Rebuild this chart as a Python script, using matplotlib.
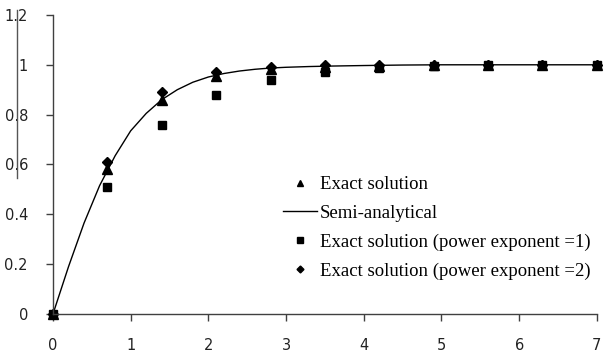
import matplotlib
matplotlib.use("Agg")
import matplotlib.pyplot as plt
from matplotlib.lines import Line2D

# Data
x_pts = [0, 0.7, 1.4, 2.1, 2.8, 3.5, 4.2, 4.9, 5.6, 6.3, 7.0]
exact = [0, 0.58, 0.86, 0.955, 0.985, 0.993, 0.997, 1.0, 1.0, 1.0, 1.0]
exact_p1 = [0, 0.51, 0.76, 0.88, 0.94, 0.972, 0.988, 0.996, 1.0, 1.0, 1.0]
exact_p2 = [0, 0.61, 0.89, 0.972, 0.993, 0.998, 1.0, 1.0, 1.0, 1.0, 1.0]

x_curve = [0, 0.2, 0.4, 0.6, 0.8, 1.0, 1.2, 1.4, 1.6, 1.8, 2.0, 2.2, 2.4,
           2.6, 2.8, 3.0, 3.3, 3.6, 4.0, 4.5, 5.0, 6.0, 7.0]
semi = [0, 0.19, 0.365, 0.515, 0.635, 0.735, 0.805, 0.86, 0.9, 0.93, 0.951,
        0.965, 0.975, 0.982, 0.987, 0.99, 0.993, 0.995, 0.997, 0.999, 1.0, 1.0, 1.0]

x_ticks = [0, 1, 2, 3, 4, 5, 6, 7]
y_ticks = [0, 0.2, 0.4, 0.6, 0.8, 1.0, 1.2]
y_labels = ["0", "0.2", "0.4", "0.6", "0.8", "1", "1.2"]

fig = plt.figure(figsize=(6.09, 3.56), dpi=100)
ax = fig.add_axes([0.087, 0.118, 0.893, 0.840])

axis_col = "#404040"
ax.plot(x_pts, exact, linestyle="none", marker="^", color="black", markersize=7,
        label="Exact solution")
ax.plot(x_curve, semi, color="black", linewidth=1.0, label="Semi-analytical")
ax.plot(x_pts, exact_p1, linestyle="none", marker="s", color="black", markersize=6,
        label="Exact solution (power exponent =1)")
ax.plot(x_pts, exact_p2, linestyle="none", marker="D", color="black", markersize=5,
        label="Exact solution (power exponent =2)")

ax.set_xlim(0, 7)
ax.set_ylim(0, 1.2)
ax.set_xticks(x_ticks)
ax.set_xticklabels([str(t) for t in x_ticks])
ax.set_yticks(y_ticks)
ax.set_yticklabels(y_labels)
for s in ["top", "right"]:
    ax.spines[s].set_visible(False)
for s in ["left", "bottom"]:
    ax.spines[s].set_color(axis_col)
    ax.spines[s].set_linewidth(1.0)
    ax.spines[s].set_clip_on(False)
ax.tick_params(axis="both", direction="out", length=5, width=1, color=axis_col,
               labelsize=10.5, labelcolor="#222222")
ax.tick_params(axis="x", pad=12)
ax.tick_params(axis="y", pad=13)
for lab in ax.get_xticklabels() + ax.get_yticklabels():
    lab.set_family("DejaVu Sans")
for l in ax.lines:
    l.set_clip_on(False)

leg = ax.legend(loc="upper left", bbox_to_anchor=(283/609, 1 - 176/356),
                bbox_transform=fig.transFigure, frameon=False,
                prop={"family": "Liberation Serif", "size": 13.5},
                handlelength=1.8, handletextpad=0.15, labelspacing=0.62,
                borderpad=0, borderaxespad=0, markerscale=0.7)

# scan artifact line at left
fig.add_artist(Line2D([17/609, 17/609], [1 - 10/356, 1 - 178/356],
                      transform=fig.transFigure, color="#555555", linewidth=1.0))

fig.savefig("out.png", dpi=100)
